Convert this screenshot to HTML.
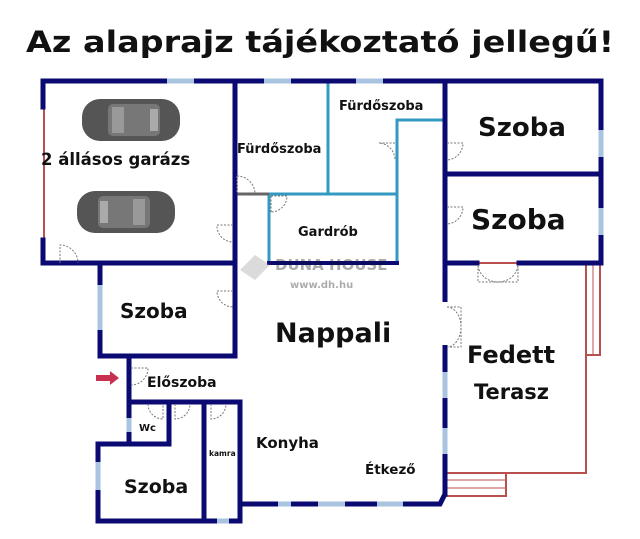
<!DOCTYPE html>
<html><head><meta charset="utf-8"><style>
html,body{margin:0;padding:0;background:#fff;}
svg{display:block;}
text{font-family:"DejaVu Sans","Liberation Sans",sans-serif;font-weight:bold;fill:#111;}
</style></head><body>
<svg width="640" height="539" viewBox="0 0 640 539" xmlns="http://www.w3.org/2000/svg">
<text x="320" y="52" font-size="29" text-anchor="middle" textLength="588" lengthAdjust="spacingAndGlyphs">Az alaprajz tájékoztató jellegű!</text>

<g fill="none" stroke="#b85050" stroke-width="2">
<polyline points="445,263 586,263 586,473 445,473"/>
<rect x="586" y="263" width="14" height="92"/>
<rect x="445" y="473" width="61" height="23"/>
<line x1="445" y1="480" x2="506" y2="480" stroke-width="1"/>
<line x1="445" y1="488" x2="506" y2="488" stroke-width="1"/>
<line x1="593" y1="263" x2="593" y2="355" stroke-width="1"/>
<line x1="44" y1="107" x2="44" y2="240"/>
</g>

<g fill="none" stroke="#3399c0" stroke-width="3">
<line x1="328" y1="82" x2="328" y2="194"/>
<line x1="269" y1="194" x2="397" y2="194"/>
<polyline points="443,120 397,120 397,263"/>
<line x1="269" y1="194" x2="269" y2="263"/>
</g>
<line x1="235" y1="194" x2="269" y2="194" stroke="#666" stroke-width="3"/>

<g fill="none" stroke="#0a0a72" stroke-width="5" stroke-linecap="square">
<line x1="43" y1="81" x2="601" y2="81"/>
<line x1="601" y1="81" x2="601" y2="263"/>
<line x1="43" y1="81" x2="43" y2="107"/>
<line x1="43" y1="240" x2="43" y2="263"/>
<line x1="43" y1="263" x2="235" y2="263"/>
<line x1="235" y1="81" x2="235" y2="356"/>
<line x1="445" y1="81" x2="445" y2="494"/>
<line x1="445" y1="174" x2="601" y2="174"/>
<line x1="445" y1="263" x2="477" y2="263"/>
<line x1="519" y1="263" x2="601" y2="263"/>
<line x1="269" y1="263" x2="397" y2="263" stroke-width="4"/>
<line x1="100" y1="263" x2="100" y2="356"/>
<line x1="100" y1="356" x2="235" y2="356"/>
<line x1="129" y1="356" x2="129" y2="444"/>
<line x1="129" y1="402" x2="240" y2="402"/>
<line x1="169" y1="402" x2="169" y2="444"/>
<line x1="98" y1="444" x2="169" y2="444"/>
<line x1="98" y1="444" x2="98" y2="521"/>
<line x1="98" y1="521" x2="240" y2="521"/>
<line x1="204" y1="402" x2="204" y2="521"/>
<line x1="240" y1="402" x2="240" y2="521"/>
<polyline points="240,504 440,504 445,494" stroke-linecap="butt"/>
</g>

<g stroke="#a8c4e0" stroke-width="5">
<line x1="167" y1="81" x2="194" y2="81"/>
<line x1="264" y1="81" x2="291" y2="81"/>
<line x1="356" y1="81" x2="383" y2="81"/>
<line x1="601" y1="130" x2="601" y2="157"/>
<line x1="601" y1="208" x2="601" y2="235"/>
<line x1="100" y1="285" x2="100" y2="330"/>
<line x1="129" y1="418" x2="129" y2="432"/>
<line x1="98" y1="462" x2="98" y2="490"/>
<line x1="217" y1="521" x2="229" y2="521"/>
<line x1="278" y1="504" x2="291" y2="504"/>
<line x1="318" y1="504" x2="345" y2="504"/>
<line x1="377" y1="504" x2="403" y2="504"/>
<line x1="445" y1="372" x2="445" y2="398"/>
<line x1="445" y1="428" x2="445" y2="454"/>
<line x1="445" y1="302" x2="445" y2="345" stroke="#fff"/>
</g>

<g fill="none" stroke="#777" stroke-width="1" stroke-dasharray="2,1.5">
<path d="M60,263 V245 A18,18 0 0 1 78,263"/>
<path d="M233,225 H217 A16,16 0 0 0 233,242"/>
<path d="M237,176 V194 M237,176 A18,18 0 0 1 255,194"/>
<path d="M271,196 V212 M271,196 H287 A16,16 0 0 1 271,212"/>
<path d="M395,143 H379 A17,17 0 0 1 395,160"/>
<path d="M447,143 H463 A17,17 0 0 1 447,160"/>
<path d="M447,207 H463 A17,17 0 0 1 447,224"/>
<path d="M233,291 H217 A16,16 0 0 0 233,307"/>
<path d="M131,368 H148 A17,17 0 0 1 131,385"/>
<path d="M148,404 A15,15 0 0 0 163,419 V404"/>
<path d="M175,404 V419 A15,15 0 0 0 190,404"/>
<path d="M211,404 V419 A15,15 0 0 0 226,404"/>
<path d="M478,265 V282 H498 A20,18 0 0 1 478,265 M518,265 V282 H498 A20,18 0 0 0 518,265"/>
<path d="M447,307 H461 V347 H447 M447,307 A14,20 0 0 1 461,327 A14,20 0 0 1 447,347"/>
</g>

<polygon points="96,375 110,375 110,371 119,378 110,385 110,381 96,381" fill="#c83050"/>

<g>
<rect x="82" y="99" width="98" height="42" rx="18" fill="#555"/>
<rect x="108" y="104" width="52" height="32" rx="5" fill="#777"/>
<rect x="112" y="107" width="12" height="26" fill="#999"/>
<rect x="150" y="109" width="8" height="22" fill="#aaa"/>
<rect x="77" y="191" width="98" height="42" rx="18" fill="#555"/>
<rect x="98" y="196" width="52" height="32" rx="5" fill="#777"/>
<rect x="133" y="199" width="12" height="26" fill="#999"/>
<rect x="100" y="201" width="8" height="22" fill="#aaa"/>
</g>

<g opacity="0.35">
<polygon points="255,255 270,265 255,280 240,270" fill="#999"/>
<text x="275" y="270" font-size="15" font-family="Liberation Serif,serif" font-weight="normal" fill="#999">DUNA HOUSE</text>
<text x="290" y="288" font-size="10" fill="#999">www.dh.hu</text>
</g>

<text x="41" y="165" font-size="16.5">2 állásos garázs</text>
<text x="237" y="153" font-size="13">Fürdőszoba</text>
<text x="339" y="110" font-size="13">Fürdőszoba</text>
<text x="298" y="236" font-size="13">Gardrób</text>
<text x="478" y="136" font-size="26">Szoba</text>
<text x="471" y="229" font-size="28">Szoba</text>
<text x="120" y="318" font-size="20">Szoba</text>
<text x="275" y="342" font-size="27">Nappali</text>
<text x="467" y="363" font-size="24">Fedett</text>
<text x="474" y="399" font-size="21">Terasz</text>
<text x="147" y="387" font-size="14">Előszoba</text>
<text x="139" y="431" font-size="10">Wc</text>
<text x="209" y="456" font-size="7.5">kamra</text>
<text x="256" y="448" font-size="15">Konyha</text>
<text x="365" y="474" font-size="13.5">Étkező</text>
<text x="124" y="493" font-size="19">Szoba</text>
</svg>
</body></html>
